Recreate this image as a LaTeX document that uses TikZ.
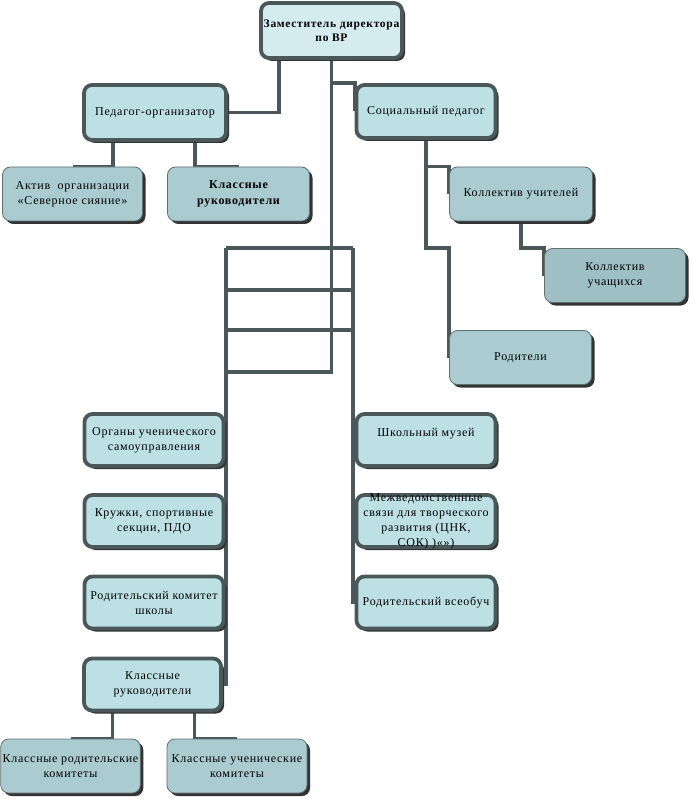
\documentclass[tikz,border=0pt]{standalone}
\usepackage{fontspec}
\setmainfont{Liberation Serif}[LetterSpace=6]
\usetikzlibrary{shadows,backgrounds}

\definecolor{linec}{RGB}{74,88,90}
\definecolor{thinc}{RGB}{96,110,112}
\definecolor{fillT}{RGB}{212,236,239}
\definecolor{fillA}{RGB}{189,224,228}
\definecolor{fillB}{RGB}{170,204,208}
\definecolor{fillC}{RGB}{158,192,196}

\tikzset{
 box/.style={rounded corners=8pt, align=center, inner sep=2pt,
  font=\fontsize{12}{15}\selectfont,
  drop shadow={shadow xshift=3pt, shadow yshift=-3pt, fill=black!80, opacity=1}},
 thickbox/.style={box, draw=linec, line width=3.8pt, fill=fillA,
  minimum width=139pt, minimum height=52pt},
 thinbox/.style={box, draw=thinc, line width=0.8pt, fill=fillB,
  minimum width=139pt, minimum height=54pt},
 link/.style={draw=linec, line width=3.8pt},
}

\begin{document}
\begin{tikzpicture}[x=1pt,y=-1pt]
 \useasboundingbox (0,0) rectangle (691,799);

% Top of the chart
 \node[thickbox, fill=fillT, minimum width=141pt, minimum height=55pt,
  font=\bfseries\fontsize{11.5}{14}\selectfont] (zam) at (331.5,30.5) {Заместитель директора\\по ВР};
 \node[thickbox, minimum width=142pt, minimum height=55pt] (ped) at (155,112.5) {Педагог-организатор};
 \node[thickbox, minimum height=53pt] (soc) at (426,111.5) {Социальный педагог};

% Under Педагог-организатор
 \node[thinbox, minimum width=140pt] (aktiv) at (72.5,194) {Актив\ \ организации\\«Северное сияние»};
 \node[thinbox, minimum width=142pt, font=\bfseries\fontsize{12}{16}\selectfont] (klruk) at (238.5,194) {Классные\\руководители};

% Under Социальный педагог
 \node[thinbox, minimum width=143pt] (kolu) at (521,194) {Коллектив учителей};
 \node[thinbox, fill=fillC, minimum width=141pt] (kolst) at (615,275.5) {Коллектив\\учащихся};
 \node[thinbox, minimum width=142pt] (rod) at (520.5,357.5) {Родители};

% Left column
 \node[thickbox] (org) at (154,440) {Органы ученического\\самоуправления};
 \node[thickbox] (kruzh) at (154,521) {Кружки, спортивные\\секции, ПДО};
 \node[thickbox] (rkom) at (154,602.5) {Родительский комитет\\школы};

% Right column
 \node[thickbox] (muz) at (426,440) {Школьный музей\\\mbox{}};
 \node[thickbox, inner ysep=-3pt] (mezh) at (426,521) {Межведомственные\\связи для творческого\\развития (ЦНК,\\СОК) )«»)};
 \node[thickbox] (vseob) at (426,602.5) {Родительский всеобуч};

% Bottom
 \node[thickbox, minimum width=137pt] (kr) at (152.5,684.5) {Классные\\руководители};
 \node[thinbox, minimum width=137pt] (krk) at (70.5,766) {Классные родительские\\комитеты};
 \node[thinbox, minimum width=140pt] (kuk) at (237,766) {Классные ученические\\комитеты};

% Connectors behind the boxes
 \begin{pgfonlayer}{background}
  \foreach \n/\y in {1/248,2/290,3/330,4/372} \coordinate (l\n) at (226,\y);
  \foreach \n/\y in {1/248,2/290,3/330} \coordinate (r\n) at (353,\y);

  \draw[link] (ped.east) -| ([xshift=-52.5pt]zam.south); % to Педагог-организатор
  \draw[link] (zam.south) |- (l4); % main line
  \draw[link] (zam.south |- soc.north) -| (soc.west); % to Социальный педагог

  \draw[link] ([xshift=-42pt]ped.south) |- (aktiv.north);
  \draw[link] ([xshift=40pt]ped.south) |- (klruk.north);

  \draw[link] (soc.south |- kolu.north) -| (kolu.west);
  \draw[link] (soc.south) |- (rod.west |- kolst.north) -- (rod.west);
  \draw[link] (kolu.south) |- (kolst.north west) -- (kolst.west);

  \foreach \n in {1,2,3} \draw[link] (l\n) -- (r\n);
  \draw[link] (l1) |- (kr.east); % left column
  \draw[link] (r1) |- (vseob.west); % right column

  \draw[link] ([xshift=-40pt]kr.south) |- (krk.north);
  \draw[link] ([xshift=42pt]kr.south) |- (kuk.north);
 \end{pgfonlayer}

\end{tikzpicture}
\end{document}
